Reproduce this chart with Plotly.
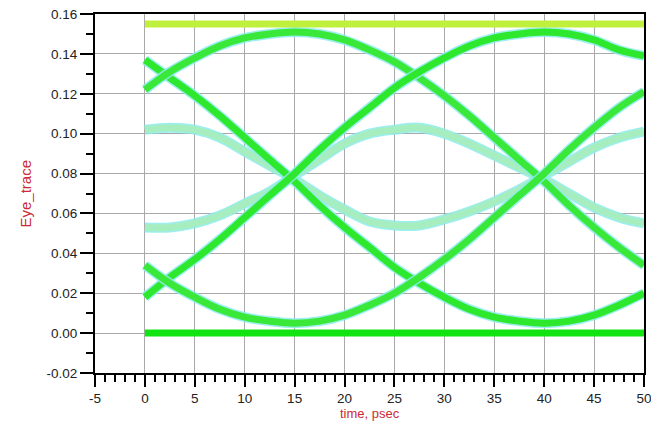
import plotly.graph_objects as go

# ---- data (time in psec, Eye_trace values) ----
time_ps = [0, 2.5, 5, 7.5, 10, 12.5, 15, 17.5, 20, 22.5, 25,
           27.5, 30, 32.5, 35, 37.5, 40, 42.5, 45, 47.5, 50]

# full-swing transitions
fall_a = [0.137, 0.128, 0.119, 0.109, 0.098, 0.087, 0.076, 0.064, 0.053, 0.043, 0.033,
          0.025, 0.018, 0.012, 0.008, 0.006, 0.005, 0.006, 0.009, 0.014, 0.020]
arch_b = [0.122, 0.131, 0.138, 0.144, 0.148, 0.150, 0.151, 0.150, 0.147, 0.142, 0.136,
          0.128, 0.119, 0.109, 0.098, 0.087, 0.076, 0.064, 0.053, 0.043, 0.034]
rise_c = [0.018, 0.028, 0.037, 0.047, 0.058, 0.069, 0.080, 0.092, 0.103, 0.113, 0.123,
          0.131, 0.138, 0.144, 0.148, 0.150, 0.151, 0.150, 0.147, 0.142, 0.139]
tub_d = [0.034, 0.025, 0.018, 0.012, 0.008, 0.006, 0.005, 0.006, 0.009, 0.014, 0.020,
         0.028, 0.037, 0.047, 0.058, 0.069, 0.080, 0.092, 0.103, 0.113, 0.121]

# reduced-swing (alternating) traces
small_e = [0.102, 0.103, 0.102, 0.098, 0.091, 0.084, 0.077, 0.069, 0.062, 0.056, 0.054,
           0.054, 0.057, 0.061, 0.066, 0.072, 0.079, 0.086, 0.093, 0.098, 0.101]
small_f = [0.053, 0.053, 0.055, 0.059, 0.065, 0.071, 0.079, 0.087, 0.095, 0.100, 0.102,
           0.103, 0.100, 0.095, 0.089, 0.083, 0.077, 0.070, 0.063, 0.058, 0.055]

# steady levels
level_x = [0, 50]
level_high = [0.155, 0.155]
level_low = [0.0, 0.0]

x_tickvals = [-5, 0, 5, 10, 15, 20, 25, 30, 35, 40, 45, 50]
x_ticktext = ["-5", "0", "5", "10", "15", "20", "25", "30", "35", "40", "45", "50"]
y_tickvals = [-0.02, 0.0, 0.02, 0.04, 0.06, 0.08, 0.10, 0.12, 0.14, 0.16]
y_ticktext = ["-0.02", "0.00", "0.02", "0.04", "0.06", "0.08", "0.10", "0.12", "0.14", "0.16"]
x_title = "time, psec"
y_title = "Eye_trace"

fig = go.Figure()

HALO = "rgba(140,235,235,0.85)"

def add_curve(y, color, width, halo=True):
    if halo:
        fig.add_trace(go.Scatter(x=time_ps, y=y, mode="lines",
                                 line=dict(color=HALO, width=width + 3, shape="spline", smoothing=1.0),
                                 hoverinfo="skip", showlegend=False))
    fig.add_trace(go.Scatter(x=time_ps, y=y, mode="lines",
                             line=dict(color=color, width=width, shape="spline", smoothing=1.0),
                             showlegend=False))

add_curve(small_e, "#a6eec0", 7)
add_curve(small_f, "#a6eec0", 7)
add_curve(fall_a, "#2ee82e", 7)
add_curve(arch_b, "#3ae83a", 7)
add_curve(rise_c, "#2ee82e", 7)
add_curve(tub_d, "#3ae83a", 7)

fig.add_trace(go.Scatter(x=level_x, y=level_high, mode="lines",
                         line=dict(color="#bff03c", width=7), showlegend=False))
fig.add_trace(go.Scatter(x=level_x, y=level_low, mode="lines",
                         line=dict(color="#12e412", width=7), showlegend=False))

axis_font = dict(family="Liberation Sans, Arial, sans-serif", size=13.5, color="#222222")
title_font = dict(family="Liberation Sans, Arial, sans-serif", size=13, color="#cc2a35")

fig.update_xaxes(
    range=[-5, 50], tickvals=x_tickvals, ticktext=x_ticktext,
    ticklabeloverflow="allow",
    showgrid=True, gridcolor="#a9a9a9", gridwidth=1, zeroline=False,
    showline=True, linecolor="black", linewidth=2, mirror=True,
    ticks="outside", ticklen=12, tickwidth=1.5, tickcolor="black",
    minor=dict(ticks="outside", ticklen=7, dtick=1, tick0=0, tickcolor="black", tickwidth=1.5, showgrid=False),
    tickfont=axis_font,
    automargin=False,
)
fig.update_yaxes(
    range=[-0.02, 0.16], tickvals=y_tickvals, ticktext=y_ticktext,
    ticklabeloverflow="allow",
    showgrid=True, gridcolor="#a9a9a9", gridwidth=1, zeroline=False,
    showline=True, linecolor="black", linewidth=2, mirror=True,
    ticks="outside", ticklen=13, tickwidth=1.5, tickcolor="black",
    minor=dict(ticks="outside", ticklen=7, dtick=0.01, tick0=0, tickcolor="black", tickwidth=1.5, showgrid=False),
    tickfont=axis_font,
    automargin=False,
)

fig.add_annotation(text=x_title, xref="paper", yref="paper", x=0.5, y=-0.1142,
                   xanchor="center", yanchor="middle", showarrow=False, font=title_font)
fig.add_annotation(text=y_title, xref="paper", yref="paper", x=-0.1275, y=0.5,
                   xanchor="center", yanchor="middle", showarrow=False, textangle=-90,
                   font=dict(family="Liberation Sans, Arial, sans-serif", size=15, color="#cc2a35"))

fig.update_layout(
    width=651, height=422,
    margin=dict(l=95, r=7, t=14, b=49),
    paper_bgcolor="white", plot_bgcolor="white",
    showlegend=False,
)

fig.write_html("out.html")
